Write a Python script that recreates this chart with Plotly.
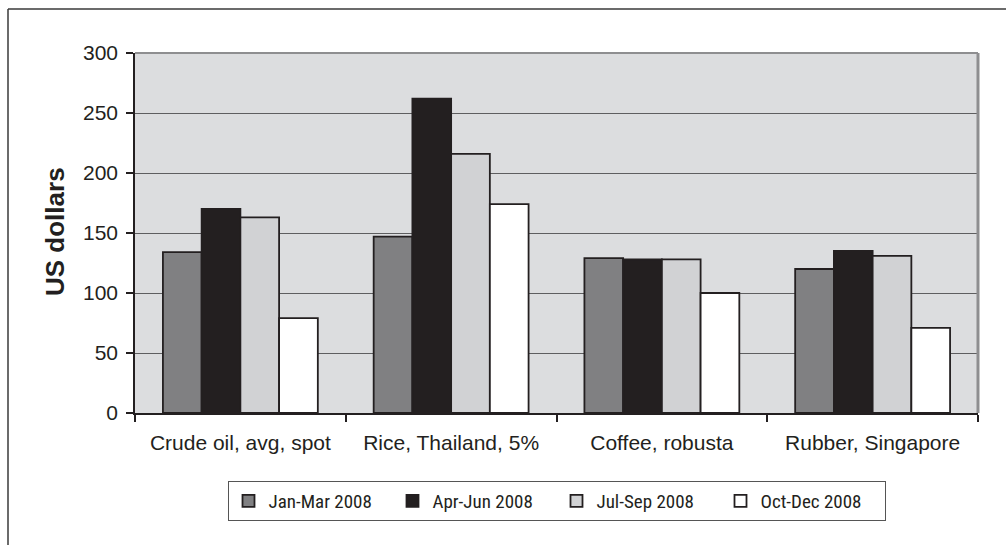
import plotly.graph_objects as go

categories = ["Crude oil, avg, spot", "Rice, Thailand, 5%", "Coffee, robusta", "Rubber, Singapore"]
series_names = ["Jan-Mar 2008", "Apr-Jun 2008", "Jul-Sep 2008", "Oct-Dec 2008"]
jan_mar = [134, 147, 129, 120]
apr_jun = [170, 262, 128, 135]
jul_sep = [163, 216, 128, 131]
oct_dec = [79, 174, 100, 71]
series_values = [jan_mar, apr_jun, jul_sep, oct_dec]
series_colors = ["#808082", "#231f20", "#d1d2d4", "#ffffff"]
y_ticks = [0, 50, 100, 150, 200, 250, 300]

W, H = 1007, 545
L, R, T, B = 135, 29, 53, 132
pw, ph = W - L - R, H - T - B

def px_x(x):
    return (x - L) / pw

def px_y(y):
    return (H - B - y) / ph

fig = go.Figure()
for name, vals, col in zip(series_names, series_values, series_colors):
    fig.add_trace(go.Bar(
        x=categories, y=vals, name=name,
        marker=dict(color=col, line=dict(color="#231f20", width=1.8)),
    ))

fig.update_layout(
    width=W, height=H,
    margin=dict(l=L, r=R, t=T, b=B),
    paper_bgcolor="white",
    plot_bgcolor="#dcdddf",
    barmode="group",
    bargap=0.265,
    bargroupgap=0,
    font=dict(family="Liberation Sans, Arial, sans-serif", color="#231f20", size=21),
    showlegend=True,
    legend=dict(
        orientation="h",
        x=0.5, xanchor="center",
        y=px_y(481), yanchor="top",
        bordercolor="#555555", borderwidth=1,
        font=dict(family="Liberation Sans Narrow, Arial Narrow, Roboto Condensed, Liberation Sans, sans-serif", size=19),
        entrywidth=119, entrywidthmode="pixels",
        traceorder="normal",
        itemclick=False,
    ),
    xaxis=dict(
        showline=True, linecolor="#231f20", linewidth=1.5,
        ticks="outside", ticklen=7, tickcolor="#231f20", tickwidth=1.5,
        tickson="boundaries",
        showgrid=False,
        ticklabelstandoff=10,
        tickfont=dict(size=21),
    ),
    yaxis=dict(
        range=[0, 300],
        tickvals=y_ticks,
        showline=True, linecolor="#231f20", linewidth=1.5,
        ticks="outside", ticklen=7, tickcolor="#231f20", tickwidth=1.5,
        showgrid=True, gridcolor="#5e5e60", gridwidth=1.2,
        zeroline=False,
        ticklabelstandoff=4,
        tickfont=dict(size=21),
    ),
    annotations=[dict(
        text="<b>US dollars</b>", textangle=-90,
        xref="paper", yref="paper",
        x=px_x(55), y=px_y(232), xanchor="center", yanchor="middle",
        showarrow=False, font=dict(size=26, color="#231f20"),
    )],
    shapes=[
        dict(type="line", xref="paper", yref="paper", x0=0, x1=1, y0=1, y1=1,
             line=dict(color="#8e8e90", width=2)),
        dict(type="line", xref="paper", yref="paper", x0=1, x1=1, y0=0, y1=1,
             line=dict(color="#8e8e90", width=3)),
        dict(type="line", xref="paper", yref="paper", x0=px_x(8), x1=px_x(1006),
             y0=px_y(9), y1=px_y(9), line=dict(color="#3a3a3a", width=1.5)),
        dict(type="line", xref="paper", yref="paper", x0=px_x(8), x1=px_x(8),
             y0=px_y(9), y1=px_y(546), line=dict(color="#3a3a3a", width=1.5)),
    ],
)

fig.write_html("out.html")
